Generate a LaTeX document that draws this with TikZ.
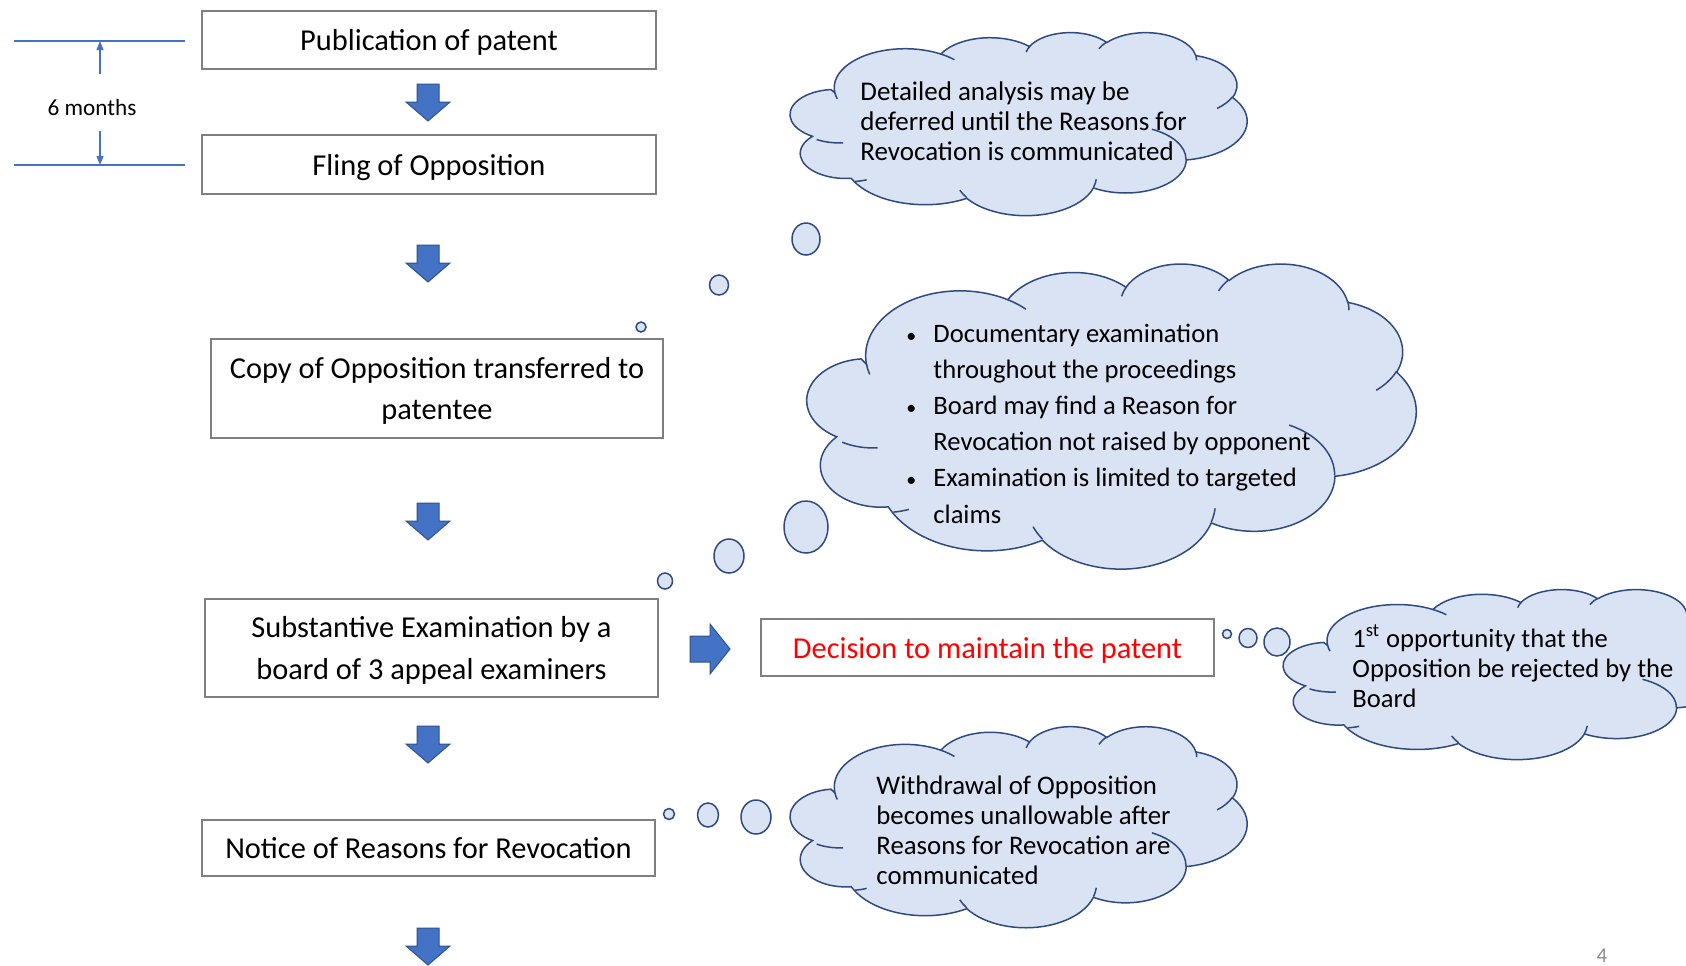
\documentclass[tikz,border=0pt]{standalone}
\usepackage{fontspec}
\setmainfont{Carlito}
\usetikzlibrary{arrows.meta}

\definecolor{boxgray}{HTML}{7F7F7F}
\definecolor{arrowblue}{HTML}{4472C4}
\definecolor{arrowedge}{HTML}{2F528F}
\definecolor{cloudfill}{HTML}{DAE3F3}
\definecolor{cloudedge}{HTML}{2F4A80}
\definecolor{pagegray}{HTML}{8C8C8C}

% Office-style cloud outline, built from elliptical arcs in a 432 x 432 frame.
% Arc angles are given as visual angles and converted to parametric ones.
\newcommand\cloudpath{}
\newcommand\cloudlines{}
\newcommand\addarc[4]{%
  \pgfmathsetmacro\cTs{atan2((#1)*sin(#3),(#2)*cos(#3))}%
  \pgfmathsetmacro\cTe{atan2((#1)*sin((#3)+(#4)),(#2)*cos((#3)+(#4)))}%
  \pgfmathsetmacro\cTd{mod(\cTe-\cTs+720,360)}%
  \xdef\cloudpath{\cloudpath arc[start angle=\cTs,delta angle=\cTd,x radius=#1,y radius=#2]}%
}
\newcommand\addline[6]{%
  \pgfmathsetmacro\cTs{atan2((#3)*sin(#5),(#4)*cos(#5))}%
  \pgfmathsetmacro\cTe{atan2((#3)*sin((#5)+(#6)),(#4)*cos((#5)+(#6)))}%
  \pgfmathsetmacro\cTd{mod(\cTe-\cTs+720,360)}%
  \xdef\cloudlines{\cloudlines (#1,#2) arc[start angle=\cTs,delta angle=\cTd,x radius=#3,y radius=#4]}%
}
\addarc{67.53}{91.90}{-190.48748}{123.78053}
\addarc{53.33}{72.67}{-144.10238}{89.94523}
\addarc{43.65}{59.45}{-145.80792}{99.72302}
\addarc{48.57}{65.95}{-130.98607}{117.24173}
\addarc{53.33}{72.73}{-78.70888}{109.02692}
\addarc{67.75}{92.20}{-46.26725}{130.26900}
\addarc{57.85}{78.67}{0.62502}{114.03333}
\addarc{67.52}{92.15}{22.45160}{115.17255}
\addarc{77.20}{105.43}{66.24263}{82.27103}
\addarc{43.60}{59.18}{-274.94208}{146.73557}
\addarc{43.45}{59.45}{-246.82850}{152.51885}
\addline{46.93}{261.77}{43.45}{59.45}{86.74200}{26.42950}
\addline{69.28}{348.99}{43.60}{59.18}{73.61047}{11.44747}
\addline{164.78}{390.90}{67.52}{92.15}{137.62415}{14.08110}
\addline{288.27}{347.51}{67.52}{92.15}{6.45327}{15.99835}
\addline{341.29}{229.54}{57.85}{78.67}{-70.29235}{70.91737}
\addline{417.98}{153.54}{53.33}{72.73}{30.31803}{27.75150}
\addline{383.24}{54.26}{48.57}{65.95}{-13.74433}{14.85890}
\addline{290.78}{39.52}{48.57}{65.95}{-149.18145}{18.19537}
\addline{221.41}{47.20}{43.65}{59.45}{-163.49427}{17.68635}
\addline{140.00}{51.92}{67.53}{91.90}{-66.70695}{12.31935}
\addline{41.27}{157.89}{67.53}{91.90}{157.65435}{11.85817}

% #1,#2 top-left corner, #3 width, #4 height
\newcommand\drawcloud[4]{%
  \begin{scope}[shift={(#1,#2)}, xscale=#3/432, yscale=#4/432]
    \path[cloudbody] (39.00,143.70) \cloudpath -- cycle;
    \path[cloudinner] \cloudlines;
  \end{scope}%
}
\newcommand\bulletmark{\makebox[13.5pt][l]{\fontsize{10}{10}\selectfont\textbullet}}
\newcommand\bulletgap{\hspace*{13.5pt}}

\tikzset{
  stepbox/.style={draw=boxgray, line width=0.75pt, fill=white, inner sep=0pt,
    align=center, text depth=0pt, font=\fontsize{15.2}{20.7}\selectfont},
  blockarrow/.style={fill=arrowblue, draw=arrowedge, line width=0.5pt},
  cloudbody/.style={fill=cloudfill, draw=cloudedge, line width=0.75pt},
  cloudinner/.style={draw=cloudedge, line width=0.75pt},
  bubble/.style={fill=cloudfill, draw=cloudedge, line width=0.75pt},
  cloudtext/.style={anchor=west, inner sep=0pt, align=left},
  spanline/.style={draw=arrowblue, line width=0.6pt},
  pics/downarrow/.style={code={
    \path[blockarrow] (-11,0) -- (11,0) -- (11,18) -- (22,18) -- (0,37)
      -- (-22,18) -- (-11,18) -- cycle;
  }},
  pics/rightarrow/.style={code={
    \path[blockarrow] (0,-13) -- (20,-13) -- (20,-25) -- (40,0) -- (20,25)
      -- (20,13) -- (0,13) -- cycle;
  }},
}

\begin{document}
\begin{tikzpicture}[x=0.5pt, y=-0.5pt]
\useasboundingbox (0,0) rectangle (1686,965);
\clip (0,0) rectangle (1686,965);
\fill[white] (0,0) rectangle (1686,965);

% ---- six-month period marker ----
\coordinate (topL) at (14,41);
\coordinate (topR) at (185,41);
\coordinate (botL) at (14,165);
\coordinate (botR) at (185,165);
\coordinate (topMid) at (100,41);
\coordinate (botMid) at (100,165);
\draw[spanline] (topL) -- (topR);
\draw[spanline] (botL) -- (botR);
\node[font=\fontsize{11.6}{14}\selectfont, inner sep=0pt] (six) at (92,108) {6 months};
\coordinate (upFrom) at (100,74);
\coordinate (downFrom) at (100,131);
\draw[spanline, -{Triangle[length=4.5pt,width=3.5pt]}] (upFrom) -- (topMid);
\draw[spanline, -{Triangle[length=4.5pt,width=3.5pt]}] (downFrom) -- (botMid);

% ---- procedure steps ----
\node[stepbox, minimum width=227pt, minimum height=29pt] (pub) at (429,40) {Publication of patent};
\node[stepbox, minimum width=227pt, minimum height=29.5pt] (fil) at (429,164.5) {Fling of Opposition};
\node[stepbox, minimum width=226pt, minimum height=49.5pt] (copy) at (437,388.5) {Copy of Opposition transferred to\\patentee};
\node[stepbox, minimum width=226.5pt, minimum height=49pt] (subst) at (431.5,648) {Substantive Examination by a\\board of 3 appeal examiners};
\node[stepbox, minimum width=226.5pt, minimum height=28pt] (notice) at (428.5,848) {Notice of Reasons for Revocation};
\node[stepbox, minimum width=226.5pt, minimum height=28.5pt, text=red] (decide) at (987.5,647.5) {Decision to maintain the patent};

% ---- block arrows ----
\pic (dn1) at (428,84) {downarrow};
\pic (dn2) at (428,245) {downarrow};
\pic (dn3) at (428,503) {downarrow};
\pic (dn4) at (428,726) {downarrow};
\pic (dn5) at (428,928) {downarrow};
\pic (rt1) at (690,649) {rightarrow};

% ---- thought bubbles ----
\path[bubble] (806,239) ellipse [x radius=14, y radius=16];
\path[bubble] (719,285) ellipse [x radius=9.5, y radius=10];
\path[bubble] (641,327) circle [radius=5];

\path[bubble] (806,527) ellipse [x radius=22, y radius=26];
\path[bubble] (729,556) ellipse [x radius=15, y radius=17];
\path[bubble] (665,581) ellipse [x radius=7.5, y radius=8];

\path[bubble] (1227,634) circle [radius=4.5];
\path[bubble] (1248,638) ellipse [x radius=9, y radius=9.5];
\path[bubble] (1277,642) ellipse [x radius=13, y radius=14];

\path[bubble] (669,814) circle [radius=5.5];
\path[bubble] (708,815) ellipse [x radius=10.5, y radius=12];
\path[bubble] (756,817) ellipse [x radius=15, y radius=17];

% ---- clouds ----
\drawcloud{794}{32}{453}{183}
\drawcloud{812}{263}{604}{305}
\drawcloud{1287}{589}{450}{170}
\drawcloud{794}{726}{453}{201}

\node[cloudtext, font=\fontsize{13.5}{15}\selectfont] (note1) at (860,121.5)
  {Detailed analysis may be\\deferred until the Reasons for\\Revocation is communicated};
\node[cloudtext, font=\fontsize{13.3}{18.1}\selectfont] (note2) at (906,423.5)
  {\bulletmark Documentary examination\\
   \bulletgap throughout the proceedings\\
   \bulletmark Board may find a Reason for\\
   \bulletgap Revocation not raised by opponent\\
   \bulletmark Examination is limited to targeted\\
   \bulletgap claims};
\node[cloudtext, font=\fontsize{13.3}{15.2}\selectfont] (note3) at (1352,666.5)
  {1\textsuperscript{st} opportunity that the\\Opposition be rejected by the\\Board};
\node[cloudtext, font=\fontsize{13.4}{15}\selectfont] (note4) at (876,830)
  {Withdrawal of Opposition\\becomes unallowable after\\Reasons for Revocation are\\communicated};

% ---- page number ----
\node[font=\fontsize{10.5}{12}\selectfont, text=pagegray, inner sep=0pt] (pagenum) at (1602,956) {4};
\end{tikzpicture}
\end{document}
